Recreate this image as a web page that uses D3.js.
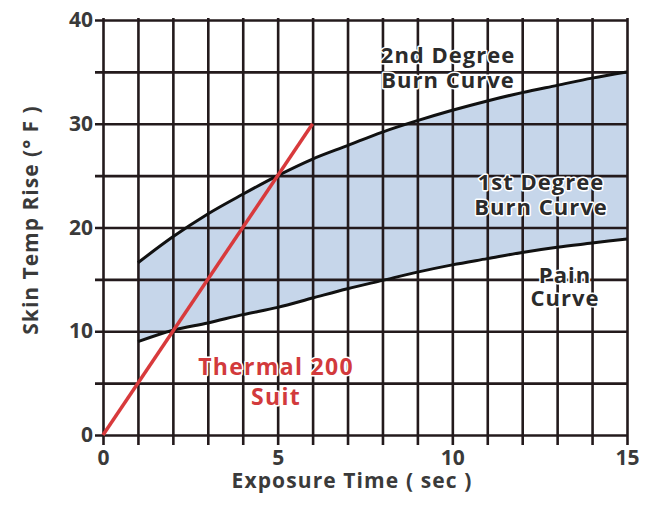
<!DOCTYPE html>
<html>
<head>
<meta charset="utf-8">
<script src="https://cdn.jsdelivr.net/npm/d3@7"></script>
<style>
  body { margin: 0; background: #fff; }
  svg text { font-family: "Open Sans", sans-serif; font-weight: 700; }
</style>
</head>
<body>
<div id="chart"></div>
<script>
// exposure time (sec) where the shaded curves are read
var times = [1, 2, 3, 4, 5, 6, 7, 8, 9, 10, 11, 12, 13, 14, 15];
var painCurve = [9.0, 10.1, 10.8, 11.6, 12.3, 13.2, 14.1, 14.9, 15.7, 16.4, 17.0, 17.6, 18.1, 18.5, 18.9];
var secondDegree = [16.6, 19.1, 21.3, 23.2, 25.0, 26.6, 27.9, 29.2, 30.3, 31.3, 32.2, 33.0, 33.7, 34.4, 35.0];
var suitTimes = [0, 6];
var suitRise = [0, 30];
var xTicks = [0, 5, 10, 15];
var yTicks = [0, 5, 10, 15, 20, 25, 30, 35, 40];

var width = 652, height = 506;
var plotLeft = 103, plotRight = 627, plotTop = 20, plotBottom = 435;
var ink = '#231a1c';

var svg = d3.select('#chart').append('svg')
  .attr('width', width)
  .attr('height', height);

var x = d3.scaleLinear().domain([0, 15]).range([plotLeft, plotRight]);
var y = d3.scaleLinear().domain([0, 40]).range([plotBottom, plotTop]);

var band = times.map(function(t, i) {
  return { t: t, lo: painCurve[i], hi: secondDegree[i] };
});

// shaded band between pain and 2nd degree curves
svg.append('path')
  .datum(band)
  .attr('fill', '#c6d6ea')
  .attr('d', d3.area()
    .curve(d3.curveMonotoneX)
    .x(function(d) { return x(d.t); })
    .y0(function(d) { return y(d.lo); })
    .y1(function(d) { return y(d.hi); }));

// grid via axes
var xAxis = svg.append('g')
  .attr('transform', 'translate(0,' + plotBottom + ')')
  .call(d3.axisBottom(x)
    .tickValues(d3.range(0, 16))
    .tickSize(10)
    .tickFormat(function(d) { return xTicks.indexOf(d) >= 0 ? d : ''; }));
xAxis.select('.domain').remove();
xAxis.selectAll('.tick line')
  .attr('y1', -(plotBottom - plotTop) - 2)
  .attr('y2', 10)
  .attr('stroke', ink)
  .attr('stroke-width', 2.6);
xAxis.selectAll('.tick text')
  .attr('y', 15)
  .attr('dy', '0.71em')
  .attr('font-size', 21)
  .attr('fill', '#3a3a3a');

var yAxis = svg.append('g')
  .attr('transform', 'translate(' + plotLeft + ',0)')
  .call(d3.axisLeft(y)
    .tickValues(yTicks)
    .tickSize(8)
    .tickFormat(function(d) { return d % 10 === 0 ? d : ''; }));
yAxis.select('.domain').remove();
yAxis.selectAll('.tick line')
  .attr('x1', -8)
  .attr('x2', plotRight - plotLeft)
  .attr('stroke', ink)
  .attr('stroke-width', 2.6);
yAxis.selectAll('.tick text')
  .attr('x', -10)
  .attr('font-size', 21)
  .attr('fill', '#3a3a3a');

// curves
var line = d3.line()
  .curve(d3.curveMonotoneX)
  .x(function(d, i) { return x(times[i]); })
  .y(function(d) { return y(d); });

svg.append('path')
  .datum(secondDegree)
  .attr('fill', 'none')
  .attr('stroke', '#111')
  .attr('stroke-width', 3)
  .attr('d', line);

svg.append('path')
  .datum(painCurve)
  .attr('fill', 'none')
  .attr('stroke', '#111')
  .attr('stroke-width', 3)
  .attr('d', line);

svg.append('path')
  .datum(suitRise)
  .attr('fill', 'none')
  .attr('stroke', '#d83a3c')
  .attr('stroke-width', 3.5)
  .attr('d', d3.line()
    .x(function(d, i) { return x(suitTimes[i]); })
    .y(function(d) { return y(d); }));

// labels
function label(lines, cx, cy, size, color, gap, spacing) {
  var t = svg.append('text')
    .attr('text-anchor', 'middle')
    .attr('font-size', size)
    .attr('letter-spacing', spacing)
    .attr('fill', color)
    .attr('stroke', '#fff')
    .attr('stroke-width', 3)
    .attr('stroke-linejoin', 'round')
    .attr('paint-order', 'stroke');
  lines.forEach(function(s, i) {
    t.append('tspan')
      .attr('x', cx)
      .attr('y', cy + i * gap)
      .text(s);
  });
}

label(['2nd Degree', 'Burn Curve'], 448, 63, 22, '#2b2b2b', 25, 1);
label(['1st Degree', 'Burn Curve'], 541, 190, 22, '#2b2b2b', 25, 1);
label(['Pain', 'Curve'], 565, 283, 22, '#2b2b2b', 23, 1);
label(['Thermal 200', 'Suit'], 276, 375, 23, '#d23a3c', 30, 1.3);

svg.append('text')
  .attr('x', 352)
  .attr('y', 488)
  .attr('text-anchor', 'middle')
  .attr('font-size', 21)
  .attr('letter-spacing', 1.1)
  .attr('fill', '#3a3a3a')
  .text('Exposure Time ( sec )');

svg.append('text')
  .attr('transform', 'translate(38,220) rotate(-90)')
  .attr('text-anchor', 'middle')
  .attr('font-size', 21)
  .attr('letter-spacing', 1)
  .attr('fill', '#3a3a3a')
  .text('Skin Temp Rise (\u00B0 F )');
</script>
</body>
</html>
